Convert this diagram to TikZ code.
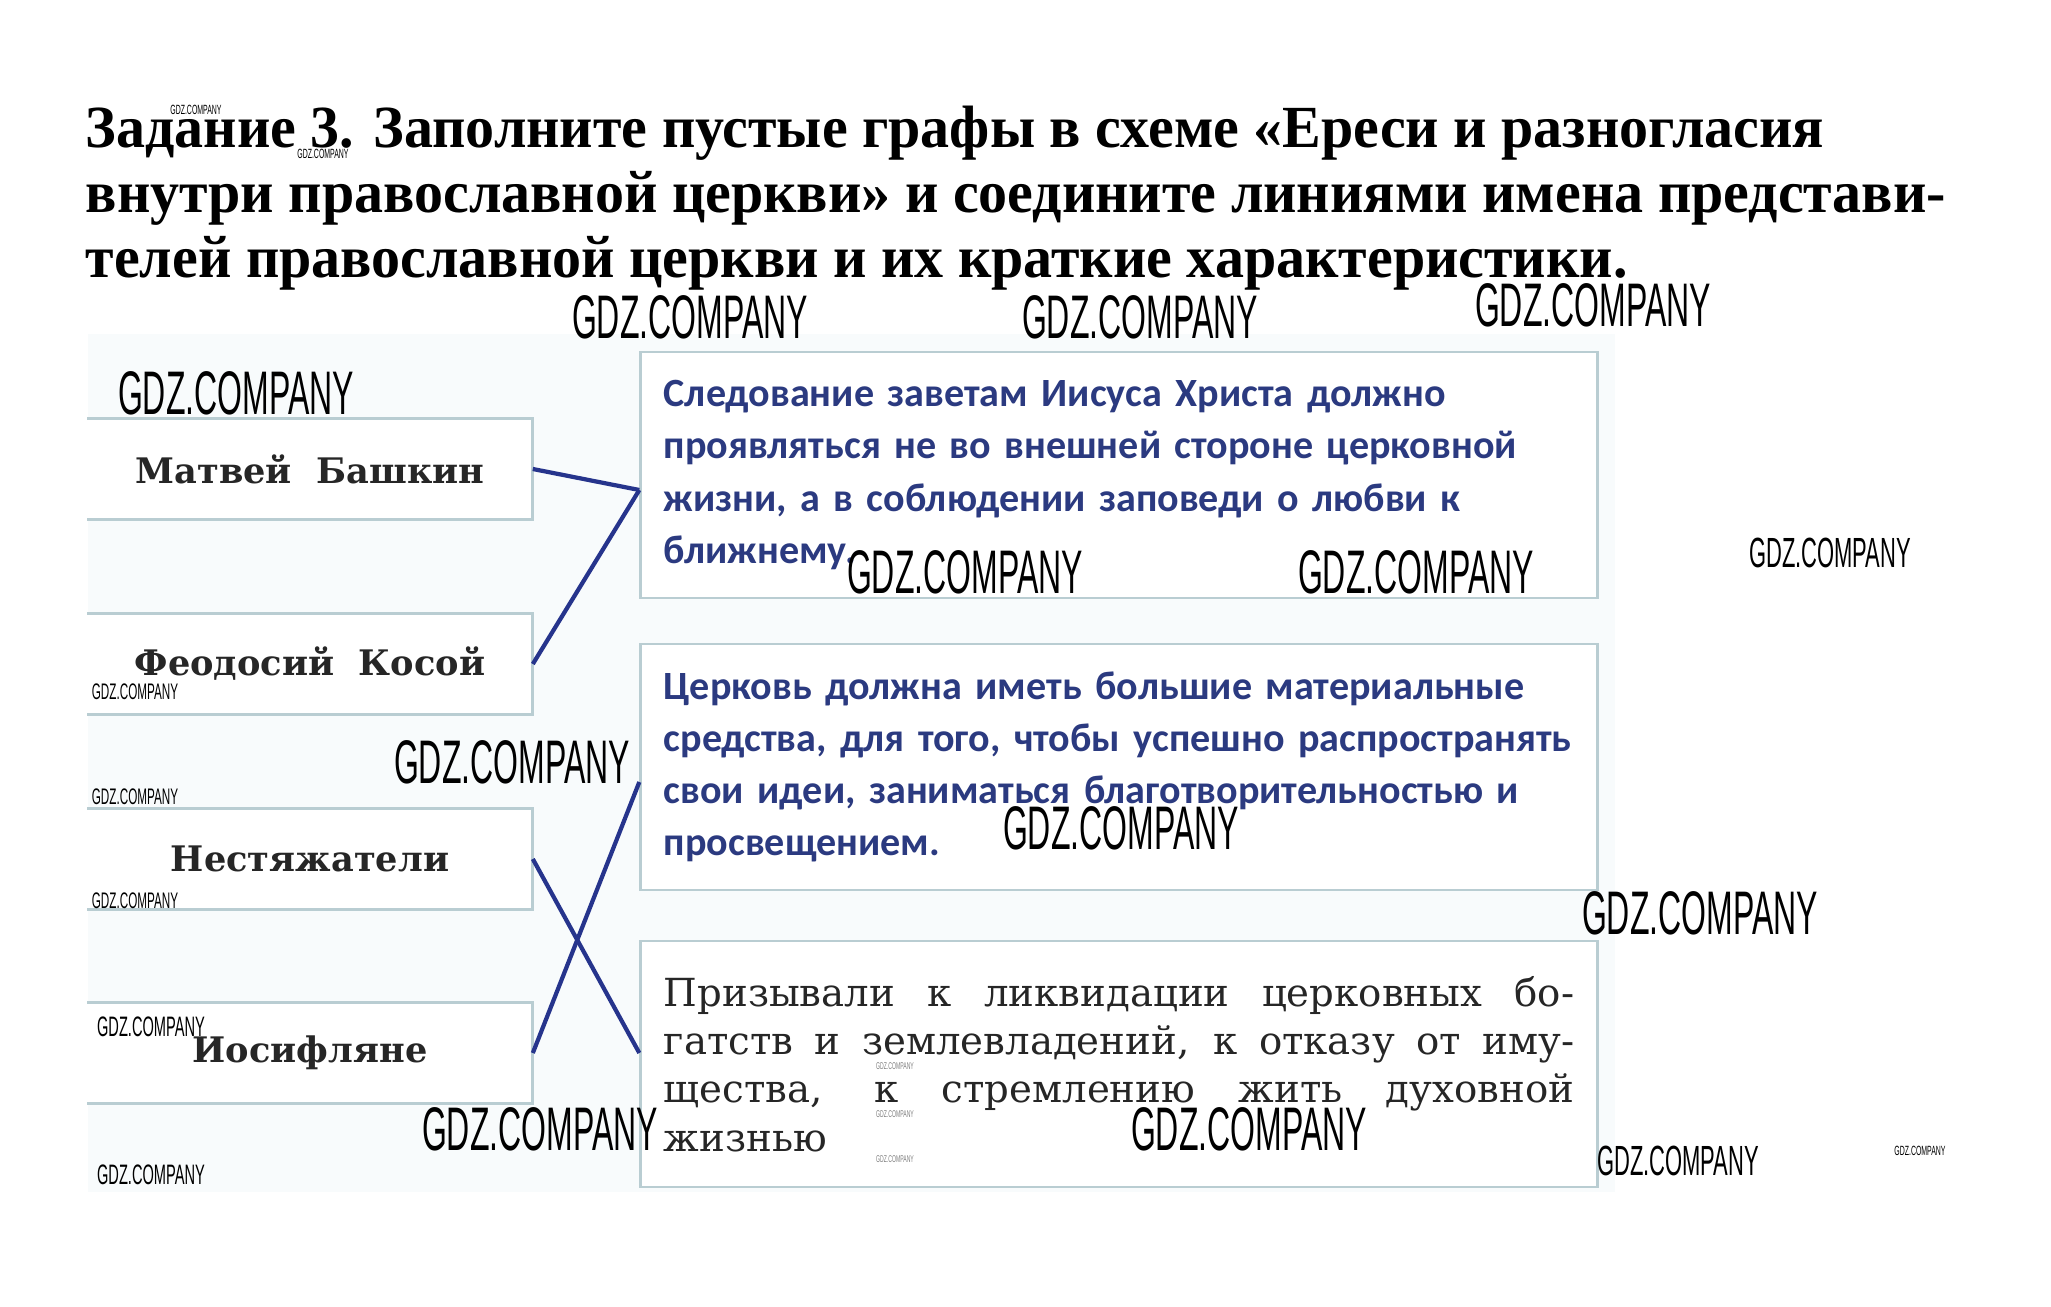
\documentclass[tikz,border=0pt]{standalone}
\usepackage{fontspec}
\setmainfont{Liberation Serif}
\newfontfamily\taskfont[FakeStretch=0.97]{Liberation Serif}
\newfontfamily\bluefont{Carlito}
\newfontfamily\bookfont{DejaVu Serif}
\newfontfamily\wmfont[FakeStretch=0.52]{Liberation Sans}
\definecolor{paper}{HTML}{F8FBFC}
\definecolor{frame}{HTML}{B9CDD2}
\definecolor{navy}{HTML}{2B3A80}
\definecolor{pen}{HTML}{26348C}
\definecolor{ink}{HTML}{262626}

\begin{document}
\begin{tikzpicture}[x=0.01cm,y=-0.01cm,
    wm/.style={font=\wmfont\fontsize{#1}{#1}\selectfont, inner sep=0pt},
    namebox/.style={fill=white, minimum width=4.44cm, minimum height=1cm, inner sep=0pt,
      font=\bookfont\bfseries\fontsize{10}{12}\selectfont, text=ink},
    ideabox/.style={draw=frame, line width=0.8pt, fill=white, minimum width=9.56cm,
      minimum height=2.46cm, text width=9.1cm, inner xsep=0.23cm},
    blue text/.style={font=\bluefont\bfseries\fontsize{11.4}{14.8}\selectfont, text=navy, align=left},
    link/.style={draw=pen, line width=1.2pt}]
  \useasboundingbox (0,0) rectangle (2051,1307);
  \fill[paper] (88,334) rectangle (1615,1192);

  % task
  \node[anchor=north west, inner sep=0pt, align=left,
    font=\taskfont\bfseries\fontsize{17}{18.6}\selectfont] (task) at (85,105)
    {Задание 3. Заполните пустые графы в схеме «Ереси и разногласия\\
     внутри православной церкви» и соедините линиями имена представи-\\
     телей православной церкви и их краткие характеристики.};

  % names
  \node[namebox] (bashkin)  at (310,469)  {Матвей~~Башкин};
  \node[namebox] (kosoy)    at (310,664)  {Феодосий~~Косой};
  \node[namebox] (nestyazh) at (310,859)  {Нестяжатели};
  \node[namebox] (iosif)    at (310,1053) {Иосифляне};
  \foreach \n in {bashkin,kosoy,nestyazh,iosif}
    \draw[frame, line width=0.8pt] (\n.north west) -- (\n.north east) -- (\n.south east) -- (\n.south west);

  % characteristics
  \node[ideabox, blue text] (ideaA) at (1119,475)
    {Следование заветам Иисуса Христа должно\\
     проявляться не во внешней стороне церковной\\
     жизни, а в соблюдении заповеди о любви к\\
     ближнему.};
  \node[ideabox, blue text] (ideaB) at (1119,767)
    {Церковь должна иметь большие материальные\\
     средства, для того, чтобы успешно распространять\\
     свои идеи, заниматься благотворительностью и\\
     просвещением.};
  \node[ideabox, align=justify, text=ink, font=\bookfont\fontsize{11}{13.7}\selectfont] (ideaC) at (1119,1064)
    {Призывали к ликвидации церковных бо-\linebreak
     гатств и землевладений, к отказу от иму-\linebreak
     щества, к стремлению жить духовной\linebreak
     жизнью};

  % answers
  \draw[link] (bashkin.east) -- ([yshift=-0.15cm]ideaA.west);
  \draw[link] (kosoy.east) -- ([yshift=-0.15cm]ideaA.west);
  \draw[link] (nestyazh.east) -- ([yshift=0.11cm]ideaC.west);
  \draw[link] (iosif.east) -- ([yshift=-0.15cm]ideaB.west);

  % watermarks
  \foreach \x/\y [count=\i] in {690/317,1140/317,1593/305,236/393,965/572,1416/572,
      512/762,1121/828,1700/913,540/1129,1249/1129}
    \node[wm=17.5] (gdz\i) at (\x,\y) {GDZ.COMPANY};
  \foreach \x/\y [count=\i] in {1830/553,1678/1161}
    \node[wm=12] (gdzm\i) at (\x,\y) {GDZ.COMPANY};
  \foreach \x/\y [count=\i] in {151/1027,151/1175}
    \node[wm=8] (gdzs\i) at (\x,\y) {GDZ.COMPANY};
  \foreach \x/\y [count=\i] in {135/692,135/797,135/901}
    \node[wm=6.4] (gdzt\i) at (\x,\y) {GDZ.COMPANY};
  \foreach \x/\y [count=\i] in {196/110,323/154,1920/1151}
    \node[wm=3.8] (gdzx\i) at (\x,\y) {GDZ.COMPANY};
  \foreach \y [count=\i] in {1066,1114,1159}
    \node[wm=2.8, gray] (gdzc\i) at (895,\y) {GDZ.COMPANY};
\end{tikzpicture}
\end{document}
